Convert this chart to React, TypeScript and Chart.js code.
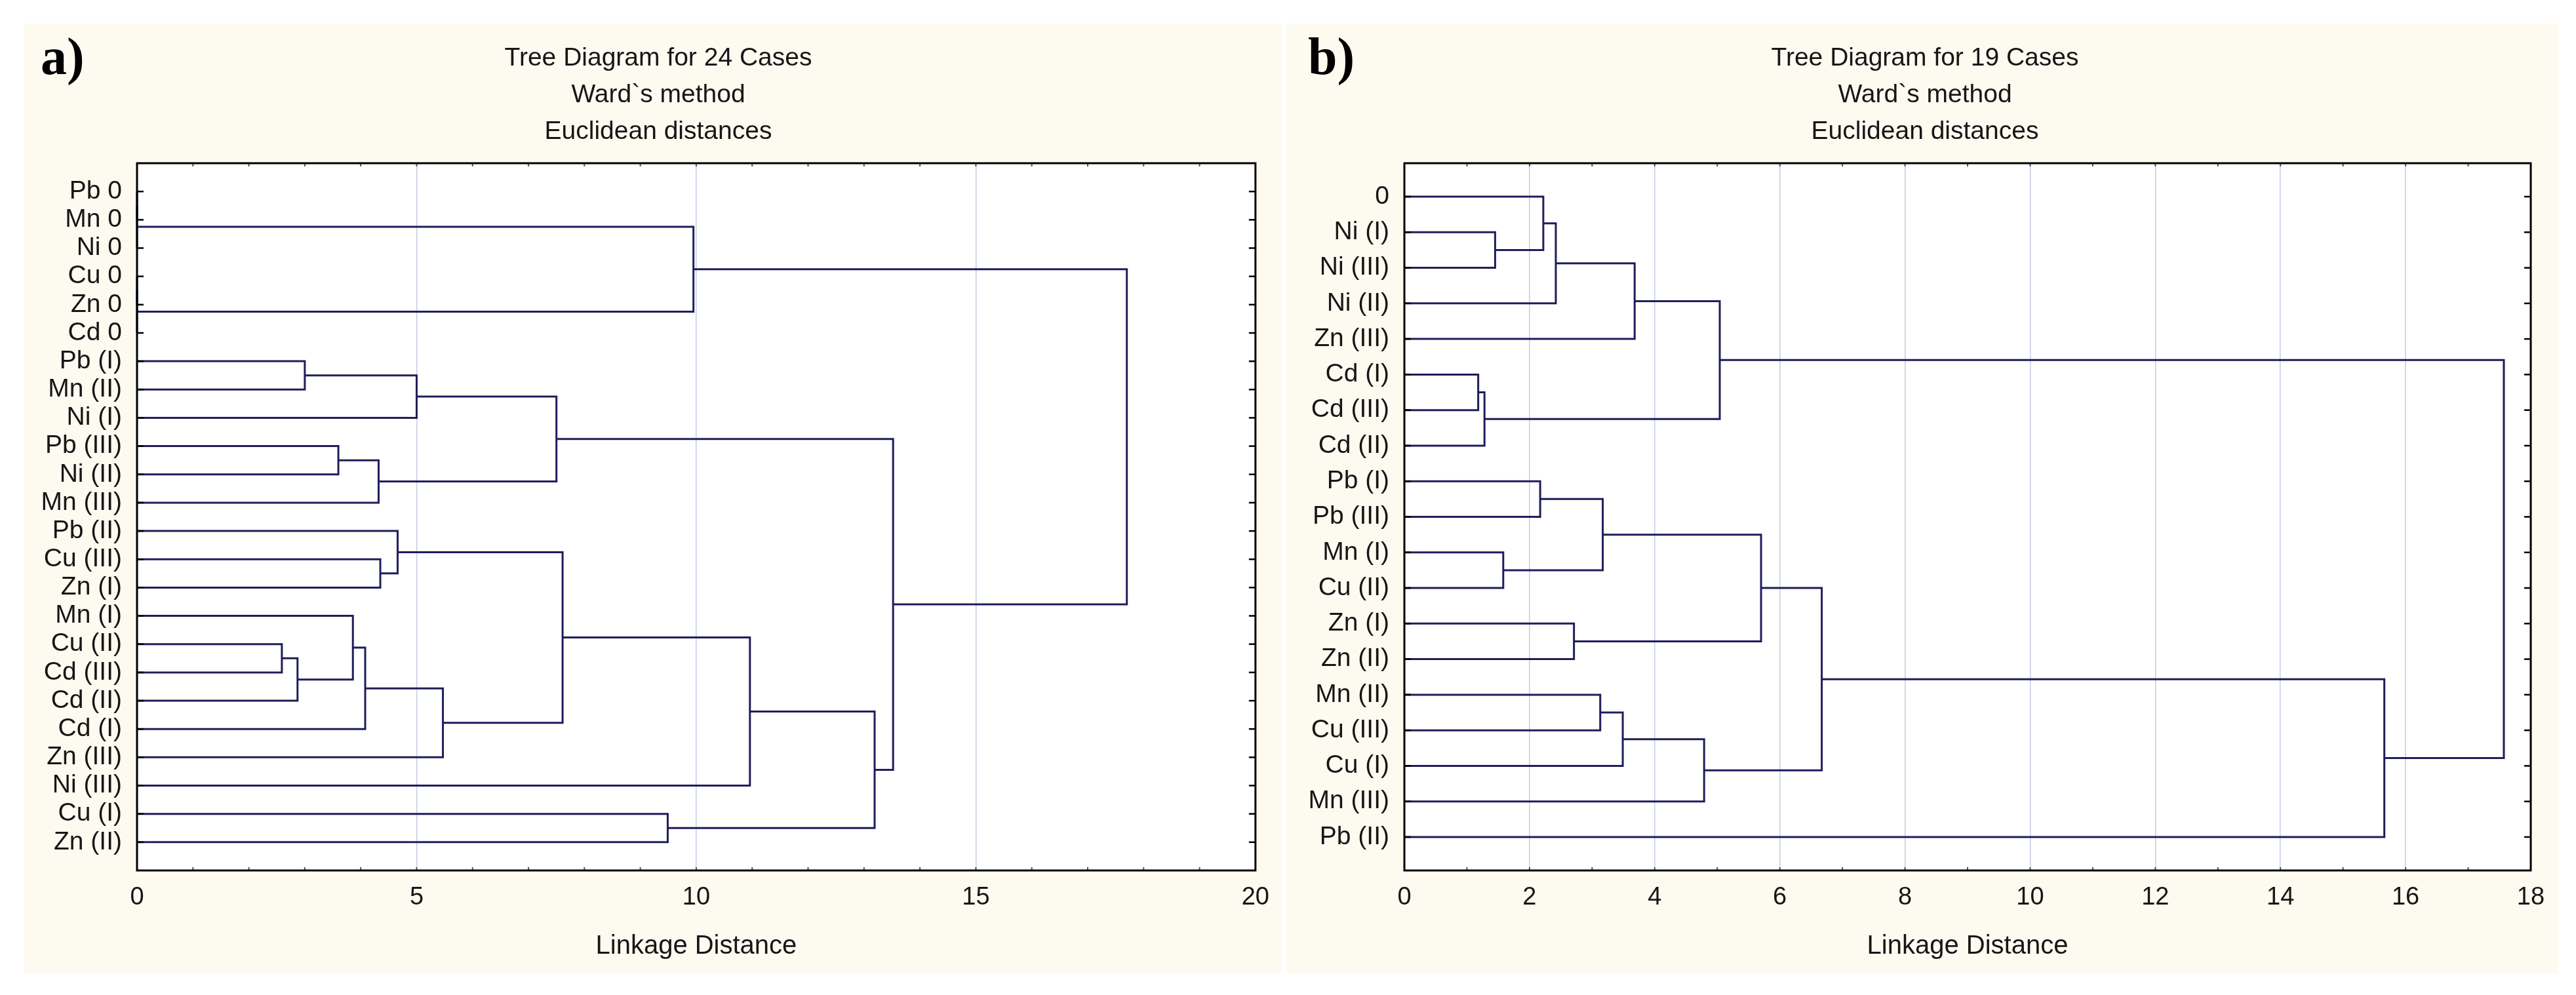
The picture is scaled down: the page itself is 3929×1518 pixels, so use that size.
import React, { useEffect, useRef } from 'react';
import { Chart, registerables } from 'chart.js';

Chart.register(...registerables);

// ---------- data ----------
const leftLabels = [
  'Pb 0', 'Mn 0', 'Ni 0', 'Cu 0', 'Zn 0', 'Cd 0', 'Pb (I)', 'Mn (II)', 'Ni (I)', 'Pb (III)',
  'Ni (II)', 'Mn (III)', 'Pb (II)', 'Cu (III)', 'Zn (I)', 'Mn (I)', 'Cu (II)', 'Cd (III)',
  'Cd (II)', 'Cd (I)', 'Zn (III)', 'Ni (III)', 'Cu (I)', 'Zn (II)',
];

// [child A, child B, linkage distance]; "#k" refers to the k-th merge
const leftMerges: [string, string, number][] = [
  ['Pb 0', 'Mn 0', 0],
  ['#0', 'Ni 0', 0],
  ['Cu 0', 'Zn 0', 0],
  ['#2', 'Cd 0', 0],
  ['#1', '#3', 9.95],
  ['Pb (I)', 'Mn (II)', 3.0],
  ['#5', 'Ni (I)', 5.0],
  ['Pb (III)', 'Ni (II)', 3.6],
  ['#7', 'Mn (III)', 4.32],
  ['#6', '#8', 7.5],
  ['Cu (III)', 'Zn (I)', 4.35],
  ['Pb (II)', '#10', 4.66],
  ['Cu (II)', 'Cd (III)', 2.59],
  ['#12', 'Cd (II)', 2.87],
  ['Mn (I)', '#13', 3.86],
  ['#14', 'Cd (I)', 4.08],
  ['#15', 'Zn (III)', 5.47],
  ['#11', '#16', 7.61],
  ['#17', 'Ni (III)', 10.96],
  ['Cu (I)', 'Zn (II)', 9.49],
  ['#18', '#19', 13.19],
  ['#9', '#20', 13.52],
  ['#4', '#21', 17.7],
];

const rightLabels = [
  '0', 'Ni (I)', 'Ni (III)', 'Ni (II)', 'Zn (III)', 'Cd (I)', 'Cd (III)', 'Cd (II)', 'Pb (I)',
  'Pb (III)', 'Mn (I)', 'Cu (II)', 'Zn (I)', 'Zn (II)', 'Mn (II)', 'Cu (III)', 'Cu (I)',
  'Mn (III)', 'Pb (II)',
];

const rightMerges: [string, string, number][] = [
  ['Ni (I)', 'Ni (III)', 1.45],
  ['0', '#0', 2.22],
  ['#1', 'Ni (II)', 2.42],
  ['#2', 'Zn (III)', 3.68],
  ['Cd (I)', 'Cd (III)', 1.18],
  ['#4', 'Cd (II)', 1.28],
  ['#3', '#5', 5.04],
  ['Pb (I)', 'Pb (III)', 2.17],
  ['Mn (I)', 'Cu (II)', 1.58],
  ['#7', '#8', 3.17],
  ['Zn (I)', 'Zn (II)', 2.71],
  ['#9', '#10', 5.7],
  ['Mn (II)', 'Cu (III)', 3.13],
  ['#12', 'Cu (I)', 3.49],
  ['#13', 'Mn (III)', 4.79],
  ['#11', '#14', 6.67],
  ['#15', 'Pb (II)', 15.66],
  ['#6', '#16', 17.57],
];

const leftTitle = ['Tree Diagram for 24 Cases', 'Ward`s method', 'Euclidean distances'];
const rightTitle = ['Tree Diagram for 19 Cases', 'Ward`s method', 'Euclidean distances'];
const axisTitle = 'Linkage Distance';
const leftXMax = 20;
const leftXStep = 5;
const rightXMax = 18;
const rightXStep = 2;

// ---------- style ----------
const FONT = "'Liberation Sans', Arial, Helvetica, sans-serif";
const SERIF = "'Liberation Serif', 'Times New Roman', serif";
const CREAM = '#fdfaf0';
const GRID = '#c8cbdf';
const LINE = '#1e1e5c';
const TEXT = '#161616';
const X_AXIS_H = 140;
const TITLE_BASE = [64, 120, 176];
const TAG_BASE = 77;

type Merge = [string, string, number];

interface PanelSpec {
  left: number; top: number; width: number; height: number;
  area: { left: number; right: number; top: number; bottom: number };
  labels: string[]; merges: Merge[];
  xMax: number; xStep: number; yMin: number; yMax: number;
  title: string[]; titleX: number; tag: string; tagX: number;
}

function buildDatasets(labels: string[], merges: Merge[]) {
  const nodes: { y: number; h: number }[] = [];
  const node = (ref: string) => {
    if (ref.startsWith('#')) return nodes[Number(ref.slice(1))];
    return { y: labels.indexOf(ref) + 1, h: 0 };
  };
  return merges.map(([a, b, h]) => {
    const A = node(a);
    const B = node(b);
    nodes.push({ y: (A.y + B.y) / 2, h });
    return {
      data: [
        { x: A.h, y: A.y },
        { x: h, y: A.y },
        { x: h, y: B.y },
        { x: B.h, y: B.y },
      ],
      showLine: true,
      borderColor: LINE,
      backgroundColor: LINE,
      borderWidth: 3,
      borderJoinStyle: 'miter' as const,
      borderCapStyle: 'butt' as const,
      pointRadius: 0,
      pointHoverRadius: 0,
      fill: false,
      tension: 0,
      clip: 4,
    };
  });
}

function makeConfig(s: PanelSpec): any {
  const { area } = s;
  const decor = {
    id: 'panelDecor',
    beforeDraw(chart: any) {
      const { ctx, chartArea: ca } = chart;
      ctx.save();
      ctx.fillStyle = '#ffffff';
      ctx.fillRect(ca.left, ca.top, ca.right - ca.left, ca.bottom - ca.top);
      ctx.restore();
    },
    afterDraw(chart: any) {
      const { ctx, chartArea: ca, scales } = chart;
      const xs = scales.x;
      const ys = scales.y;
      const seg = (x1: number, y1: number, x2: number, y2: number) => {
        ctx.beginPath();
        ctx.moveTo(x1, y1);
        ctx.lineTo(x2, y2);
        ctx.stroke();
      };
      ctx.save();
      // minor ticks on top and bottom (inward)
      ctx.strokeStyle = '#555555';
      ctx.lineWidth = 2;
      for (let v = 0; v <= s.xMax; v += 1) {
        const px = xs.getPixelForValue(v);
        seg(px, ca.top, px, ca.top + 5);
        seg(px, ca.bottom - 5, px, ca.bottom);
      }
      // case ticks on left and right (inward)
      ctx.strokeStyle = '#000000';
      ctx.lineWidth = 2.5;
      s.labels.forEach((_, i) => {
        const py = ys.getPixelForValue(i + 1);
        seg(ca.left, py, ca.left + 10, py);
        seg(ca.right - 10, py, ca.right, py);
      });
      // frame
      ctx.lineWidth = 3;
      ctx.strokeRect(ca.left, ca.top, ca.right - ca.left, ca.bottom - ca.top);
      // titles
      ctx.fillStyle = TEXT;
      ctx.font = `39px ${FONT}`;
      ctx.textAlign = 'center';
      ctx.textBaseline = 'alphabetic';
      s.title.forEach((t, i) => ctx.fillText(t, s.titleX, TITLE_BASE[i]));
      // panel tag
      ctx.fillStyle = '#000000';
      ctx.font = `bold 80px ${SERIF}`;
      ctx.textAlign = 'left';
      ctx.fillText(s.tag, s.tagX, TAG_BASE);
      ctx.restore();
    },
  };

  return {
    type: 'scatter',
    data: { datasets: buildDatasets(s.labels, s.merges) },
    plugins: [decor],
    options: {
      animation: false,
      responsive: false,
      events: [],
      layout: {
        padding: {
          left: 0,
          right: s.width - area.right,
          top: area.top,
          bottom: s.height - area.bottom - X_AXIS_H,
        },
      },
      plugins: {
        legend: { display: false },
        tooltip: { enabled: false },
        title: { display: false },
      },
      scales: {
        x: {
          type: 'linear',
          position: 'bottom',
          min: 0,
          max: s.xMax,
          afterFit: (sc: any) => { sc.height = X_AXIS_H; },
          ticks: {
            stepSize: s.xStep,
            autoSkip: false,
            maxRotation: 0,
            font: { family: FONT, size: 38 },
            color: TEXT,
            padding: 19,
          },
          grid: { color: GRID, lineWidth: 1.5, drawTicks: false },
          border: { display: false },
          title: {
            display: true,
            text: axisTitle,
            color: TEXT,
            font: { family: FONT, size: 40 },
            padding: { top: 0, bottom: 0.5 },
          },
        },
        y: {
          type: 'linear',
          position: 'left',
          reverse: true,
          min: s.yMin,
          max: s.yMax,
          afterFit: (sc: any) => { sc.width = area.left; },
          afterBuildTicks: (sc: any) => {
            sc.ticks = s.labels.map((_, i) => ({ value: i + 1 }));
          },
          ticks: {
            autoSkip: false,
            callback: (_v: any, i: number) => s.labels[i],
            font: { family: FONT, size: 39, lineHeight: 1 },
            color: TEXT,
            padding: 23,
          },
          grid: { display: false, drawTicks: false },
          border: { display: false },
        },
      },
    },
  };
}

const leftSpec: PanelSpec = {
  left: 37, top: 36, width: 1918, height: 1449,
  area: { left: 172, right: 1891, top: 213, bottom: 1292 },
  labels: leftLabels, merges: leftMerges,
  xMax: leftXMax, xStep: leftXStep, yMin: 0, yMax: leftLabels.length + 1,
  title: leftTitle, titleX: 967, tag: 'a)', tagX: 25,
};

const rightSpec: PanelSpec = {
  left: 1962, top: 36, width: 1940, height: 1449,
  area: { left: 180, right: 1898, top: 213, bottom: 1292 },
  labels: rightLabels, merges: rightMerges,
  xMax: rightXMax, xStep: rightXStep, yMin: 0.06, yMax: rightLabels.length + 0.94,
  title: rightTitle, titleX: 974, tag: 'b)', tagX: 33,
};

function Panel({ spec }: { spec: PanelSpec }) {
  const ref = useRef<HTMLCanvasElement>(null);
  useEffect(() => {
    if (!ref.current) return;
    const chart = new Chart(ref.current, makeConfig(spec));
    return () => chart.destroy();
  }, [spec]);
  return (
    <div
      style={{
        position: 'absolute',
        left: spec.left,
        top: spec.top,
        width: spec.width,
        height: spec.height,
        background: CREAM,
      }}
    >
      <canvas
        ref={ref}
        width={spec.width}
        height={spec.height}
        style={{ display: 'block', width: spec.width, height: spec.height }}
      />
    </div>
  );
}

export default function App() {
  return (
    <div
      style={{
        position: 'absolute',
        left: 0,
        top: 0,
        width: 3929,
        height: 1518,
        background: '#ffffff',
        overflow: 'hidden',
      }}
    >
      <Panel spec={leftSpec} />
      <Panel spec={rightSpec} />
    </div>
  );
}
